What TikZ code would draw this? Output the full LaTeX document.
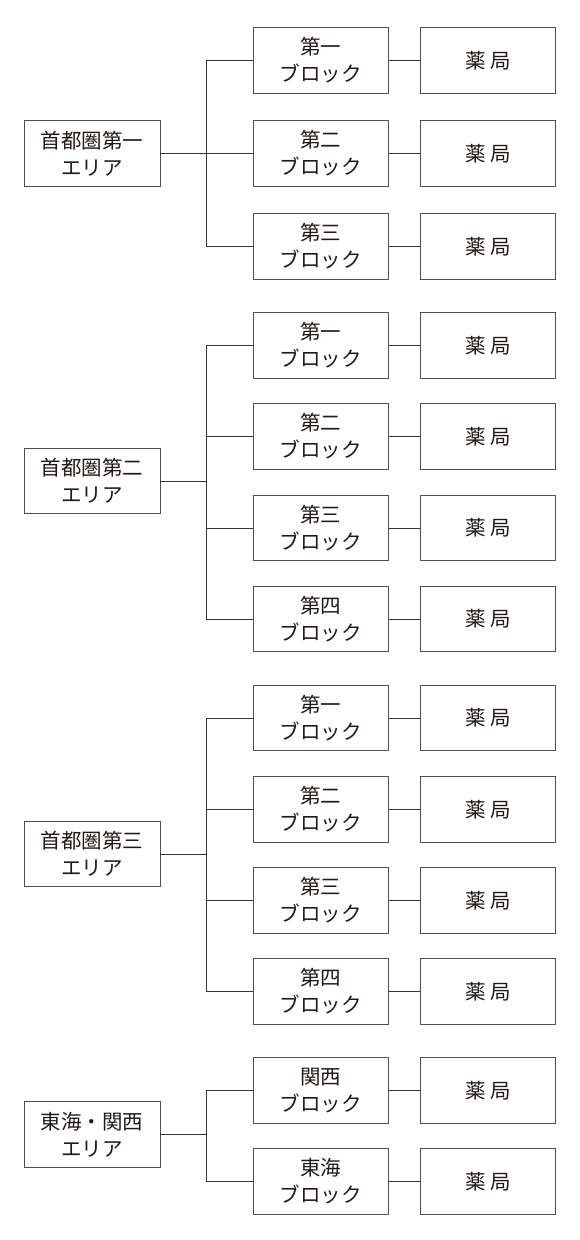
\documentclass[tikz,border=0pt]{standalone}
\usepackage{fontspec}
\setmainfont{Noto Sans CJK JP}
\usetikzlibrary{positioning}
\definecolor{boxgray}{HTML}{505050}
\definecolor{linegray}{HTML}{3B3434}
\definecolor{inkblack}{HTML}{231815}

\begin{document}
\begin{tikzpicture}[
  x=1pt, y=-1pt,
  node distance=31.7pt,
  box/.style={draw=boxgray, line width=0.9pt, align=center, minimum width=135pt, minimum height=65.5pt, inner sep=0pt, text=inkblack, font=\fontsize{20.5}{27}\selectfont},
  link/.style={draw=linegray, line width=0.9pt}
]
\useasboundingbox (0,0) rectangle (579,1240);

% 首都圏第一エリア
\node[box, minimum width=136pt] (area1) at (92,153.5) {首都圏第一\\エリア};
\node[box] (blk11) at (320.8,60.5) {第一\\ブロック};
\node[box] (blk12) at (320.8,153.5) {第二\\ブロック};
\node[box] (blk13) at (320.8,246.5) {第三\\ブロック};
\node[box, right=of blk11] (ph11) {薬 局};
\node[box, right=of blk12] (ph12) {薬 局};
\node[box, right=of blk13] (ph13) {薬 局};
\coordinate (hub1) at (206,153.5);

% 首都圏第二エリア
\node[box, minimum width=136pt] (area2) at (92,481) {首都圏第二\\エリア};
\node[box] (blk21) at (320.8,345.5) {第一\\ブロック};
\node[box] (blk22) at (320.8,436.5) {第二\\ブロック};
\node[box] (blk23) at (320.8,528) {第三\\ブロック};
\node[box] (blk24) at (320.8,619) {第四\\ブロック};
\node[box, right=of blk21] (ph21) {薬 局};
\node[box, right=of blk22] (ph22) {薬 局};
\node[box, right=of blk23] (ph23) {薬 局};
\node[box, right=of blk24] (ph24) {薬 局};
\coordinate (hub2) at (206,481);

% 首都圏第三エリア
\node[box, minimum width=136pt] (area3) at (92,854) {首都圏第三\\エリア};
\node[box] (blk31) at (320.8,718) {第一\\ブロック};
\node[box] (blk32) at (320.8,809.5) {第二\\ブロック};
\node[box] (blk33) at (320.8,900.5) {第三\\ブロック};
\node[box] (blk34) at (320.8,991.5) {第四\\ブロック};
\node[box, right=of blk31] (ph31) {薬 局};
\node[box, right=of blk32] (ph32) {薬 局};
\node[box, right=of blk33] (ph33) {薬 局};
\node[box, right=of blk34] (ph34) {薬 局};
\coordinate (hub3) at (206,854);

% 東海・関西エリア
\node[box, minimum width=136pt] (area4) at (92,1134.5) {東海・関西\\エリア};
\node[box] (blk41) at (320.8,1090.5) {関西\\ブロック};
\node[box] (blk42) at (320.8,1181.5) {東海\\ブロック};
\node[box, right=of blk41] (ph41) {薬 局};
\node[box, right=of blk42] (ph42) {薬 局};
\coordinate (hub4) at (206,1134.5);

\draw[link] (area1) -- (hub1);
\draw[link] (blk11) -| (hub1);
\draw[link] (blk12) -| (hub1);
\draw[link] (blk13) -| (hub1);
\draw[link] (blk11) -- (ph11);
\draw[link] (blk12) -- (ph12);
\draw[link] (blk13) -- (ph13);

\draw[link] (area2) -- (hub2);
\draw[link] (blk21) -| (hub2);
\draw[link] (blk22) -| (hub2);
\draw[link] (blk23) -| (hub2);
\draw[link] (blk24) -| (hub2);
\draw[link] (blk21) -- (ph21);
\draw[link] (blk22) -- (ph22);
\draw[link] (blk23) -- (ph23);
\draw[link] (blk24) -- (ph24);

\draw[link] (area3) -- (hub3);
\draw[link] (blk31) -| (hub3);
\draw[link] (blk32) -| (hub3);
\draw[link] (blk33) -| (hub3);
\draw[link] (blk34) -| (hub3);
\draw[link] (blk31) -- (ph31);
\draw[link] (blk32) -- (ph32);
\draw[link] (blk33) -- (ph33);
\draw[link] (blk34) -- (ph34);

\draw[link] (area4) -- (hub4);
\draw[link] (blk41) -| (hub4);
\draw[link] (blk42) -| (hub4);
\draw[link] (blk41) -- (ph41);
\draw[link] (blk42) -- (ph42);
\end{tikzpicture}
\end{document}
